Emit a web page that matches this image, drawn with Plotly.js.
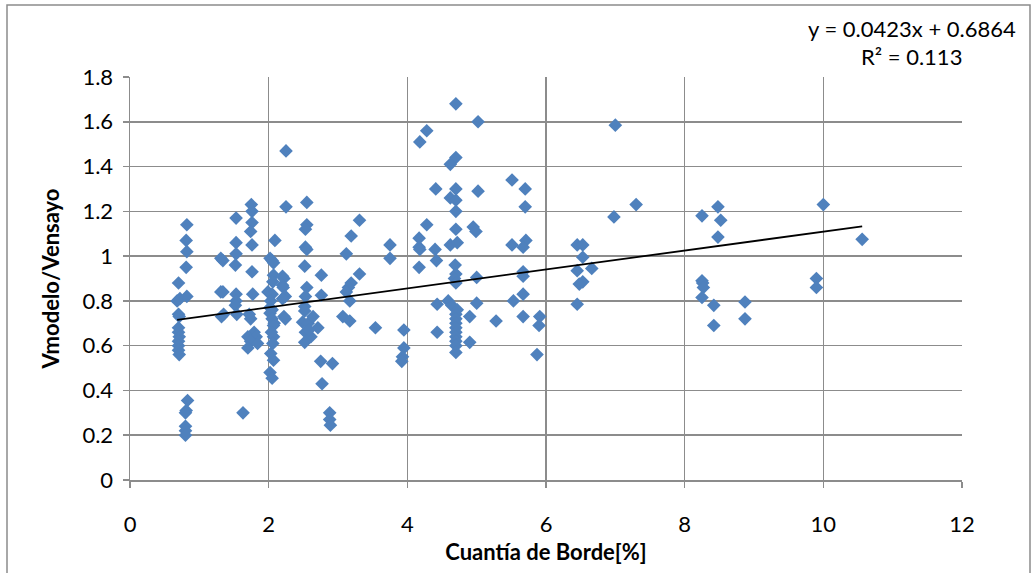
<!DOCTYPE html>
<html>
<head>
<meta charset="utf-8">
<script src="https://cdn.plot.ly/plotly-3.0.1.min.js"></script>
<style>
html,body{margin:0;padding:0;background:#fff;}
#chart{width:1034px;height:573px;}
</style>
</head>
<body>
<div id="chart"></div>
<script>
// Cuantía de Borde [%]
const cuantia = [
  0.70,0.68,0.72,0.70,0.71,0.70,0.70,0.71,0.70,0.70,0.70,0.71,
  0.82,0.81,0.82,0.81,0.82,0.83,0.81,0.80,0.80,0.80,0.80,
  1.31,1.34,1.31,1.34,1.32,1.35,
  1.53,1.53,1.53,1.52,1.53,1.53,1.52,1.54,
  1.63,
  1.75,1.76,1.76,1.74,1.76,1.76,1.77,1.72,1.74,1.79,1.70,1.82,1.74,1.70,1.84,
  2.09,2.02,2.05,2.07,2.07,2.06,1.99,2.05,2.03,2.02,2.05,2.02,2.05,2.08,2.07,2.04,2.07,2.06,2.03,2.07,2.02,2.05,
  2.25,2.25,2.20,2.22,2.20,2.21,2.24,2.20,2.22,2.24,
  2.55,2.55,2.53,2.53,2.55,2.52,2.55,2.53,2.52,2.52,2.49,2.57,2.53,2.61,2.52,2.64,2.71,2.58,
  2.76,2.76,2.75,2.77,2.92,2.88,2.88,2.89,
  3.31,3.19,3.12,3.31,3.19,3.15,3.12,3.17,3.07,3.17,3.54,3.75,3.75,3.95,3.95,3.93,3.92,
  4.18,4.28,4.28,4.17,4.17,4.18,4.17,4.41,4.40,4.42,4.43,4.43,
  4.70,4.70,4.62,4.70,4.62,4.70,4.70,4.70,4.62,4.72,4.69,4.70,4.68,4.70,4.59,4.64,4.72,4.70,4.70,4.70,4.70,4.70,4.70,4.70,4.70,4.70,
  4.95,4.99,5.02,5.02,5.00,5.00,4.90,4.90,5.28,
  5.51,5.51,5.53,5.70,5.70,5.71,5.67,5.67,5.67,5.67,5.67,5.91,5.90,5.87,
  6.45,6.53,6.53,6.45,6.53,6.48,6.45,6.66,7.00,6.98,7.30,
  8.25,8.48,8.52,8.48,8.25,8.26,8.27,8.25,8.42,8.42,8.87,8.87,9.90,9.90,10.00,10.56
];
// Vmodelo/Vensayo
const ratio = [
  0.88,0.80,0.81,0.74,0.73,0.68,0.66,0.64,0.62,0.60,0.58,0.56,
  1.14,1.07,1.02,0.95,0.82,0.355,0.31,0.30,0.24,0.22,0.20,
  0.99,0.98,0.84,0.84,0.73,0.74,
  1.17,1.06,1.01,0.96,0.83,0.80,0.78,0.74,
  0.30,
  1.23,1.20,1.15,1.11,1.05,0.93,0.83,0.74,0.72,0.66,0.64,0.64,0.62,0.59,0.61,
  1.07,0.99,0.98,0.97,0.915,0.885,0.84,0.83,0.80,0.77,0.76,0.745,0.72,0.70,0.69,0.66,0.64,0.61,0.565,0.535,0.48,0.455,
  1.47,1.22,0.91,0.90,0.87,0.86,0.82,0.81,0.73,0.72,
  1.24,1.14,1.12,1.04,1.03,0.955,0.86,0.82,0.775,0.755,0.705,0.70,0.66,0.64,0.615,0.73,0.68,0.67,
  0.915,0.825,0.53,0.43,0.52,0.30,0.27,0.245,
  1.16,1.09,1.01,0.92,0.88,0.86,0.84,0.80,0.73,0.71,0.68,1.05,0.99,0.67,0.59,0.55,0.53,
  1.51,1.56,1.14,1.08,1.04,1.03,0.95,1.30,1.03,0.98,0.785,0.66,
  1.68,1.44,1.41,1.30,1.26,1.25,1.20,1.12,1.05,1.06,0.96,0.92,0.90,0.88,0.80,0.78,0.76,0.74,0.72,0.70,0.68,0.66,0.64,0.62,0.60,0.57,
  1.13,1.11,1.60,1.29,0.905,0.79,0.73,0.615,0.71,
  1.34,1.05,0.80,1.30,1.22,1.07,1.04,0.93,0.91,0.83,0.73,0.73,0.69,0.56,
  1.05,1.05,0.995,0.935,0.885,0.875,0.785,0.945,1.585,1.175,1.23,
  1.18,1.22,1.16,1.085,0.89,0.88,0.86,0.815,0.78,0.69,0.795,0.72,0.90,0.86,1.23,1.075
];
const trendSlope = 0.0423;
const trendIntercept = 0.6864;
const xTicks = [0,2,4,6,8,10,12];
const yTicks = [0,0.2,0.4,0.6,0.8,1,1.2,1.4,1.6,1.8];
const yTickLabels = ['0','0.2','0.4','0.6','0.8','1','1.2','1.4','1.6','1.8'];
const eqText = 'y = 0.0423x + 0.6864';
const r2Text = 'R² = 0.113';
const xTitle = 'Cuantía de Borde[%]';
const yTitle = 'Vmodelo/Vensayo';

const xMin = Math.min(...cuantia), xMax = Math.max(...cuantia);
const trendX = [xMin, xMax];
const trendY = trendX.map(v => trendSlope * v + trendIntercept);

const FONT = 'Lato, "Open Sans", sans-serif';

const W = 1034, H = 573, L = 130, R = 72, T = 77, B = 93;
const pw = W - L - R, ph = H - T - B;
const px = v => (v - L) / pw;
const py = v => (H - B - v) / ph;

const data = [
  {
    x: cuantia, y: ratio, type: 'scatter', mode: 'markers',
    marker: {symbol: 'diamond', size: 10.5, color: '#4F81BD', line: {width: 0}},
    hoverinfo: 'x+y', showlegend: false, cliponaxis: false
  },
  {
    x: trendX, y: trendY, type: 'scatter', mode: 'lines',
    line: {color: '#000000', width: 1.8}, showlegend: false, hoverinfo: 'skip'
  }
];

const axisCommon = {
  showgrid: true, gridcolor: '#8c8c8c', gridwidth: 1.5,
  showline: true, linecolor: '#8c8c8c', linewidth: 1.5,
  zeroline: false, ticks: 'outside', ticklen: 6, tickcolor: '#8c8c8c', tickwidth: 1.5,
  tickfont: {family: FONT, size: 22, color: '#000'}
};

const layout = {
  width: W, height: H,
  margin: {l: L, r: R, t: T, b: B, pad: 0},
  paper_bgcolor: '#ffffff', plot_bgcolor: '#ffffff',
  xaxis: Object.assign({}, axisCommon, {
    range: [0, 12], tickvals: xTicks, ticktext: xTicks.map(String),
    ticklabelstandoff: 18,
    title: {text: '<b>' + xTitle + '</b>', font: {family: FONT, size: 22, color: '#000'}, standoff: 8}
  }),
  yaxis: Object.assign({}, axisCommon, {
    range: [0, 1.8], tickvals: yTicks, ticktext: yTickLabels,
    ticklabelstandoff: 5,
    title: {text: '<b>' + yTitle + '</b>', font: {family: FONT, size: 22, color: '#000'}, standoff: 16}
  }),
  annotations: [
    {text: eqText, xref: 'paper', yref: 'paper', x: px(912), y: py(29), xanchor: 'center', yanchor: 'middle',
     showarrow: false, font: {family: FONT, size: 22, color: '#000'}},
    {text: r2Text, xref: 'paper', yref: 'paper', x: px(911), y: py(57), xanchor: 'center', yanchor: 'middle',
     showarrow: false, font: {family: FONT, size: 22, color: '#000'}}
  ],
  shapes: [
    {type: 'rect', xref: 'paper', yref: 'paper', x0: px(7), x1: px(1030), y0: py(590), y1: py(5),
     line: {color: '#8c8c8c', width: 1.5}, fillcolor: 'rgba(0,0,0,0)', layer: 'above'}
  ]
};

Plotly.newPlot('chart', data, layout, {displayModeBar: false, staticPlot: true});
</script>
</body>
</html>
